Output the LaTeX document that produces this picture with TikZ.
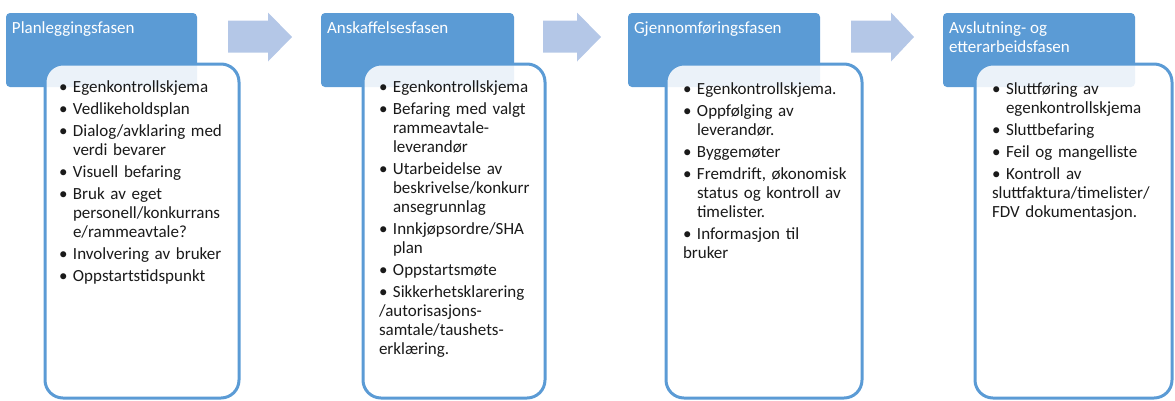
\documentclass[tikz,border=0pt]{standalone}
\usepackage{fontspec}
\setmainfont{Carlito}
\definecolor{phaseblue}{HTML}{5B9BD5}
\definecolor{flowblue}{HTML}{B4C7E7}
\definecolor{bodyink}{HTML}{1A1A1A}
% one bulleted entry; lines inside an entry are split with \nl
\newcommand\phaseitem[1]{\par\hangindent=14pt\hangafter=1\noindent
  \makebox[14pt][l]{\rule{0pt}{14pt}\textbullet}#1}
\newcommand\nl{\hfil\break}
\begin{document}
\begin{tikzpicture}[x=1pt,y=-1pt,
  phase/.style={fill=phaseblue, draw=none, rounded corners=4pt, anchor=north west,
    minimum width=#1, minimum height=74pt, inner sep=0pt, outer sep=0pt},
  card/.style={draw=phaseblue, line width=3pt, fill=white, fill opacity=0.88,
    rounded corners=18pt, anchor=north west, minimum width=#1,
    minimum height=334pt, inner sep=0pt, outer sep=0pt},
  title/.style={anchor=north west, inner sep=0pt, outer sep=0pt, text=white,
    align=left, font=\fontsize{17}{19}\selectfont},
  itemlist/.style={anchor=north west, inner sep=0pt, outer sep=0pt, text=bodyink,
    text width=200pt, align=left,
    font=\fontsize{17}{19}\selectfont\setlength\parskip{3pt}},
  flow/.style={fill=flowblue, draw=none}]
\useasboundingbox (0,0) rectangle (1175,400);

% phase headers
\node[phase=191pt] (h1) at (6,13) {};
\node[phase=193pt] (h2) at (321,13) {};
\node[phase=192pt] (h3) at (628,13) {};
\node[phase=192pt] (h4) at (943,13) {};

% white cards, partly over the headers
\node[card=194pt] (c1) at (45,64) {};
\node[card=182pt] (c2) at (363,64) {};
\node[card=196pt] (c3) at (666,64) {};
\node[card=197pt] (c4) at (975,64) {};

% block arrows between the phases
\coordinate (a1) at (228,36.5);
\coordinate (a2) at (543,36.5);
\coordinate (a3) at (851,36.5);
\fill[flow] (a1) ++(0,-16) -- ++(40,0) -- ++(0,-8) -- ++(24,24.5) -- ++(-24,24.5)
  -- ++(0,-9) -- ++(-40,0) -- cycle;
\fill[flow] (a2) ++(0,-16) -- ++(34,0) -- ++(0,-8) -- ++(24,24.5) -- ++(-24,24.5)
  -- ++(0,-9) -- ++(-34,0) -- cycle;
\fill[flow] (a3) ++(0,-16) -- ++(40,0) -- ++(0,-8) -- ++(23,24.5) -- ++(-23,24.5)
  -- ++(0,-9) -- ++(-40,0) -- cycle;

% header titles
\node[title] (t1) at (12,19.5) {\rule{0pt}{14pt}Planleggingsfasen};
\node[title] (t2) at (327,19.5) {\rule{0pt}{14pt}Anskaffelsesfasen};
\node[title] (t3) at (634,19.5) {\rule{0pt}{14pt}Gjennomføringsfasen};
\node[title] (t4) at (949,19.5) {\rule{0pt}{14pt}Avslutning- og\\etterarbeidsfasen};

% bullet lists
\node[itemlist] (l1) at (59,70) {%
  \phaseitem{Egenkontrollskjema}
  \phaseitem{Vedlikeholdsplan}
  \phaseitem{Dialog/avklaring med\nl verdi bevarer}
  \phaseitem{Visuell befaring}
  \phaseitem{Bruk av eget\nl personell/konkurrans\nl e/rammeavtale?}
  \phaseitem{Involvering av bruker}
  \phaseitem{Oppstartstidspunkt}};
\node[itemlist] (l2) at (379,70.5) {%
  \phaseitem{Egenkontrollskjema}
  \phaseitem{Befaring med valgt\nl rammeavtale-\nl leverandør}
  \phaseitem{Utarbeidelse av\nl beskrivelse/konkurr\nl ansegrunnlag}
  \phaseitem{Innkjøpsordre/SHA\nl plan}
  \phaseitem{Oppstartsmøte}
  \phaseitem{Sikkerhetsklarering\nl /autorisasjons-\nl samtale/taushets-\nl erklæring.}};
\node[itemlist] (l3) at (683,72) {%
  \phaseitem{Egenkontrollskjema.}
  \phaseitem{Oppfølging av\nl leverandør.}
  \phaseitem{Byggemøter}
  \phaseitem{Fremdrift, økonomisk\nl status og kontroll av\nl timelister.}
  \phaseitem{Informasjon til\nl bruker}};
\node[itemlist] (l4) at (992,72) {%
  \phaseitem{Sluttføring av\nl egenkontrollskjema}
  \phaseitem{Sluttbefaring}
  \phaseitem{Feil og mangelliste}
  \phaseitem{Kontroll av\nl sluttfaktura/timelister/\nl FDV dokumentasjon.}};
\end{tikzpicture}
\end{document}
